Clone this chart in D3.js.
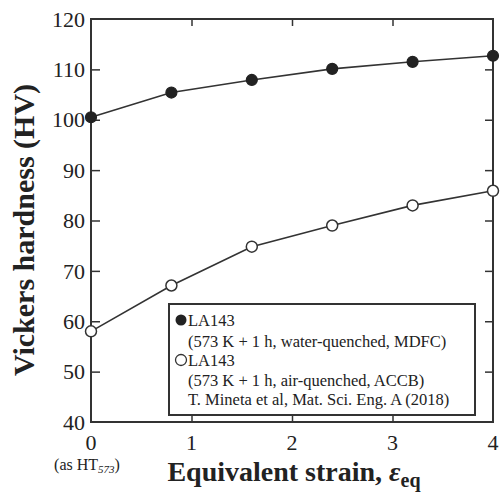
<!DOCTYPE html>
<html><head><meta charset="utf-8">
<script src="https://cdn.jsdelivr.net/npm/d3@7"></script>
<style>body{margin:0;background:#fff}svg{display:block}</style>
</head><body>
<script>
const strain = [0, 0.8, 1.6, 2.4, 3.2, 4];
const hvWater = [100.5, 105.4, 107.9, 110.1, 111.5, 112.7];
const hvAir = [58.0, 67.1, 74.8, 79.0, 83.0, 85.9];
const xTicks = [0, 1, 2, 3, 4];
const yTicks = [40, 50, 60, 70, 80, 90, 100, 110, 120];
const legendLines = ["LA143", "(573 K + 1 h, water-quenched, MDFC)", "LA143", "(573 K + 1 h, air-quenched, ACCB)", "T. Mineta et al, Mat. Sci. Eng. A (2018)"];

const W = 500, H = 493;
const m = {l: 91, r: 7, t: 19, b: 71};
const svg = d3.select("body").append("svg").attr("width", W).attr("height", H);
const x = d3.scaleLinear().domain([0, 4]).range([m.l, W - m.r]);
const y = d3.scaleLinear().domain([40, 120]).range([H - m.b, m.t]);
const ink = "#333";
const serif = "'Liberation Serif', 'Times New Roman', serif";

// axes with inward ticks
const inner = [1, 2, 3];
const yInner = [50, 60, 70, 80, 90, 100, 110];
svg.append("g").attr("transform", `translate(0,${y(40)})`)
  .call(d3.axisTop(x).tickValues(inner).tickSize(7).tickFormat(""))
  .call(g => g.select(".domain").remove());
svg.append("g").attr("transform", `translate(0,${y(120)})`)
  .call(d3.axisBottom(x).tickValues(inner).tickSize(7).tickFormat(""))
  .call(g => g.select(".domain").remove());
svg.append("g").attr("transform", `translate(${x(0)},0)`)
  .call(d3.axisRight(y).tickValues(yInner).tickSize(9).tickFormat(""))
  .call(g => g.select(".domain").remove());
svg.append("g").attr("transform", `translate(${x(4)},0)`)
  .call(d3.axisLeft(y).tickValues(yInner).tickSize(8).tickFormat(""))
  .call(g => g.select(".domain").remove());
svg.selectAll(".tick line").attr("stroke", ink).attr("stroke-width", 1.5);

// frame
svg.append("rect").attr("x", x(0)).attr("y", y(120))
  .attr("width", x(4) - x(0)).attr("height", y(40) - y(120))
  .attr("fill", "none").attr("stroke", ink).attr("stroke-width", 2);

// tick labels
svg.append("g").selectAll("text").data(yTicks).join("text")
  .attr("x", x(0) - 6).attr("y", d => y(d)).attr("dy", "0.35em")
  .attr("text-anchor", "end").attr("font-family", serif).attr("font-size", 22)
  .attr("fill", "#222").text(d => d);
svg.append("g").selectAll("text").data(xTicks).join("text")
  .attr("x", d => x(d)).attr("y", y(40) + 28)
  .attr("text-anchor", "middle").attr("font-family", serif).attr("font-size", 22)
  .attr("fill", "#222").text(d => d);
const sub = svg.append("text").attr("x", x(0) - 4).attr("y", 470)
  .attr("text-anchor", "middle").attr("font-family", serif).attr("font-size", 16).attr("fill", "#222");
sub.append("tspan").text("(as HT");
sub.append("tspan").attr("font-size", 11).attr("dy", 3).attr("font-style", "italic").text("573");
sub.append("tspan").attr("dy", -3).text(")");

// axis titles
svg.append("text").attr("transform", `translate(34,230) rotate(-90)`)
  .attr("text-anchor", "middle").attr("font-family", serif).attr("font-weight", "bold")
  .attr("font-size", 30).attr("fill", "#222").text("Vickers hardness (HV)");
const xt = svg.append("text").attr("x", 294).attr("y", 481)
  .attr("text-anchor", "middle").attr("font-family", serif).attr("font-weight", "bold")
  .attr("font-size", 28).attr("fill", "#222");
xt.append("tspan").text("Equivalent strain, ");
xt.append("tspan").attr("font-style", "italic").text("ε");
xt.append("tspan").attr("font-size", 20).attr("dy", 6).text("eq");

// lines
const line = d3.line().x((d, i) => x(strain[i])).y(d => y(d));
[hvWater, hvAir].forEach(s => svg.append("path").datum(s).attr("d", line)
  .attr("fill", "none").attr("stroke", ink).attr("stroke-width", 1.6));
svg.append("g").selectAll("circle").data(hvWater).join("circle")
  .attr("cx", (d, i) => x(strain[i])).attr("cy", d => y(d)).attr("r", 5.5)
  .attr("fill", "#222").attr("stroke", "#222").attr("stroke-width", 1.2);
svg.append("g").selectAll("circle").data(hvAir).join("circle")
  .attr("cx", (d, i) => x(strain[i])).attr("cy", d => y(d)).attr("r", 5.5)
  .attr("fill", "#fff").attr("stroke", ink).attr("stroke-width", 1.5);

// legend
const lg = svg.append("g");
lg.append("rect").attr("x", 169).attr("y", 304).attr("width", 306).attr("height", 111)
  .attr("fill", "#fff").attr("stroke", ink).attr("stroke-width", 2);
const ly = [320, 341, 360, 380, 399];
lg.selectAll("text").data(legendLines).join("text")
  .attr("x", 188).attr("y", (d, i) => ly[i]).attr("dy", "0.35em")
  .attr("font-family", serif).attr("font-size", 16.5).attr("fill", "#222").text(d => d);
lg.append("circle").attr("cx", 181).attr("cy", ly[0]).attr("r", 5.5).attr("fill", "#222");
lg.append("circle").attr("cx", 181).attr("cy", ly[2]).attr("r", 5.5).attr("fill", "#fff")
  .attr("stroke", ink).attr("stroke-width", 1.3);
</script>
</body></html>
